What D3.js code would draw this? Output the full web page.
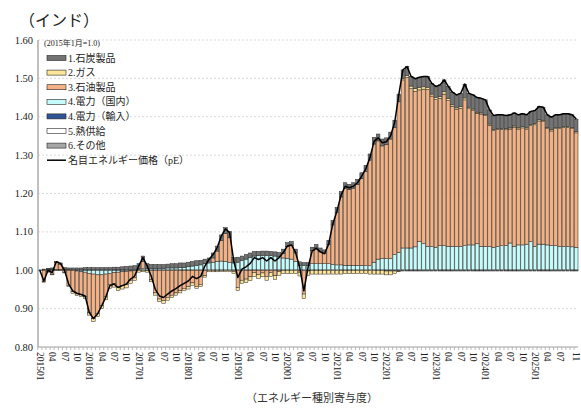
<!DOCTYPE html>
<html>
<head>
<meta charset="utf-8">
<script src="https://cdn.jsdelivr.net/npm/d3@7"></script>
<style>
  body { margin: 0; background: #fff; }
</style>
</head>
<body>
<svg width="581" height="413"></svg>
<script>
// Monthly categories 2015/01 .. 2025/11
const months = [];
for (let yr = 2015; yr <= 2025; yr++) {
    for (let m = 1; m <= 12; m++) {
        if (yr === 2025 && m > 11) break;
        months.push(`${yr}${String(m).padStart(2, "0")}`);
    }
}

// months that carry a tick label
const tickMonths = [
    "201501", "201504", "201507", "201510",
    "201601", "201604", "201607", "201610",
    "201701", "201704", "201707", "201710",
    "201801", "201804", "201807", "201810",
    "201901", "201904", "201907", "201910",
    "202001", "202004", "202007", "202010",
    "202101", "202104", "202107", "202110",
    "202201", "202204", "202207", "202210",
    "202301", "202304", "202307", "202310",
    "202401", "202404", "202407", "202410",
    "202501", "202504", "202507", "202511"
];

// nominal energy price (2015/01 = 1.0)
const pE = [
    1.000, 0.972, 1.000, 0.994, 1.022, 1.018, 1.000, 0.964, 0.946, 0.940, 0.937, 0.933,
    0.890, 0.874, 0.886, 0.907, 0.930, 0.960, 0.964, 0.955, 0.960, 0.964, 0.977, 0.985,
    1.012, 1.033, 1.012, 0.985, 0.950, 0.933, 0.929, 0.938, 0.946, 0.952, 0.960, 0.966,
    0.972, 0.984, 0.978, 0.984, 1.011, 1.028, 1.041, 1.059, 1.089, 1.108, 1.098, 1.025,
    0.981, 1.003, 1.009, 1.018, 1.033, 1.028, 1.033, 1.024, 1.033, 1.024, 1.033, 1.046,
    1.063, 1.066, 1.046, 1.007, 0.946, 1.007, 1.050, 1.057, 1.048, 1.043, 1.068, 1.120,
    1.154, 1.195, 1.219, 1.215, 1.219, 1.228, 1.245, 1.264, 1.293, 1.336, 1.345, 1.332,
    1.335, 1.350, 1.385, 1.457, 1.522, 1.531, 1.505, 1.499, 1.503, 1.505, 1.505, 1.487,
    1.479, 1.483, 1.496, 1.479, 1.464, 1.457, 1.461, 1.485, 1.461, 1.457, 1.450, 1.448,
    1.444, 1.418, 1.403, 1.405, 1.405, 1.403, 1.405, 1.410, 1.405, 1.408, 1.405, 1.414,
    1.416, 1.427, 1.425, 1.405, 1.399, 1.405, 1.405, 1.408, 1.408, 1.405, 1.394
];

// contributions by energy type
const coal = [
    .001, .002, .002, .003, .003, .003, .004, .004, .005, .005, .005, .006,
    .006, .006, .006, .006, .006, .006, .007, .007, .008, .009, .010, .011,
    .012, .014, .012, .010, .010, .010, .010, .010, .011, .011, .012, .012,
    .012, .012, .012, .012, .012, .013, .013, .013, .014, .015, .015, .014,
    .013, .012, .012, .012, .012, .011, .011, .011, .011, .011, .011, .011,
    .010, .010, .010, .009, .008, .008, .009, .009, .010, .010, .011, .012,
    .013, .014, .014, .014, .014, .014, .015, .015, .016, .017, .018, .018,
    .018, .018, .019, .020, .022, .023, .025, .026, .026, .027, .028, .028,
    .029, .030, .031, .032, .033, .034, .035, .036, .036, .037, .038, .038,
    .038, .037, .036, .035, .035, .034, .034, .034, .034, .034, .034, .034,
    .034, .034, .034, .033, .033, .033, .033, .033, .033, .033, .033
];
const gas = [
    0, -.002, -.001, -.002, -.001, -.001, -.002, -.003, -.004, -.004, -.005, -.005,
    -.006, -.007, -.008, -.008, -.009, -.009, -.009, -.009, -.009, -.008, -.008, -.007,
    -.005, -.004, -.004, -.005, -.006, -.007, -.007, -.007, -.006, -.006, -.006, -.006,
    -.006, -.006, -.005, -.005, -.004, -.004, -.004, -.004, -.003, -.003, -.003, -.005,
    -.008, -.008, -.009, -.010, -.010, -.010, -.010, -.010, -.010, -.010, -.010, -.009,
    -.009, -.009, -.009, -.010, -.012, -.011, -.010, -.010, -.010, -.010, -.010, -.010,
    -.010, -.010, -.009, -.009, -.009, -.009, -.009, -.009, -.010, -.010, -.010, -.010,
    -.010, -.010, -.006, -.002, .004, .006, .007, .007, .007, .006, .006, .005,
    .005, .005, .006, .005, .004, .004, .004, .005, .004, .004, .003, .003,
    .003, .003, .003, .003, .003, .003, .003, .003, .003, .003, .003, .003,
    .003, .004, .004, .003, .003, .003, .003, .003, .003, .003, .003
];
const oil = [
    -.001, -.029, -.004, -.010, .018, .014, -.005, -.039, -.056, -.060, -.060, -.064,
    -.103, -.116, -.101, -.080, -.058, -.030, -.029, -.039, -.036, -.035, -.024, -.019,
    .003, .019, -.001, -.025, -.059, -.075, -.079, -.071, -.065, -.059, -.053, -.047,
    -.043, -.033, -.042, -.037, -.014, .000, .011, .027, .054, .073, .065, -.003,
    -.045, -.026, -.023, -.017, -.006, -.011, -.007, -.016, -.006, -.014, -.003, .012,
    .031, .036, .022, -.005, -.062, -.002, .034, .041, .031, .026, .050, .103,
    .137, .177, .201, .197, .201, .210, .226, .246, .275, .308, .308, .294,
    .297, .312, .331, .392, .438, .444, .415, .405, .395, .403, .409, .392,
    .385, .384, .395, .380, .365, .357, .360, .380, .355, .350, .340, .345,
    .341, .316, .304, .305, .303, .302, .297, .311, .302, .305, .300, .302,
    .317, .321, .319, .303, .299, .305, .307, .310, .310, .308, .298
];
const elec = [
    0, .001, .002, .002, .001, .001, .002, .001, 0, -.002, -.004, -.005,
    -.008, -.010, -.012, -.012, -.010, -.008, -.006, -.005, -.004, -.003, -.002, -.001,
    .001, .003, .004, .004, .004, .004, .004, .005, .005, .005, .006, .006,
    .008, .010, .012, .013, .016, .018, .020, .022, .023, .022, .020, .018,
    .020, .024, .028, .032, .036, .037, .038, .038, .037, .036, .034, .031,
    .030, .028, .022, .012, .011, .011, .016, .016, .016, .016, .016, .014,
    .013, .013, .012, .012, .012, .012, .012, .011, .011, .020, .028, .029,
    .029, .029, .040, .046, .057, .057, .057, .060, .074, .068, .061, .061,
    .059, .063, .063, .061, .061, .061, .061, .063, .065, .065, .068, .061,
    .061, .061, .059, .061, .063, .063, .070, .061, .065, .065, .067, .074,
    .061, .067, .067, .065, .063, .063, .061, .061, .061, .060, .059
];
const elecImport = [
    0, 0, 0, 0, 0, 0, 0, 0, 0, 0, 0, 0,
    0, 0, 0, 0, 0, 0, 0, 0, 0, 0, 0, 0,
    0, 0, 0, 0, 0, 0, 0, 0, 0, 0, 0, 0,
    0, 0, 0, 0, 0, 0, 0, 0, 0, 0, 0, 0,
    0, 0, 0, 0, 0, 0, 0, 0, 0, 0, 0, 0,
    0, 0, 0, 0, 0, 0, 0, 0, 0, 0, 0, 0,
    0, 0, 0, 0, 0, 0, 0, 0, 0, 0, 0, 0,
    0, 0, 0, 0, 0, 0, 0, 0, 0, 0, 0, 0,
    0, 0, 0, 0, 0, 0, 0, 0, 0, 0, 0, 0,
    0, 0, 0, 0, 0, 0, 0, 0, 0, 0, 0, 0,
    0, 0, 0, 0, 0, 0, 0, 0, 0, 0, 0
];
const heat = [
    0, 0, 0, 0, 0, 0, 0, 0, 0, 0, 0, 0,
    0, 0, 0, 0, 0, 0, 0, 0, 0, 0, 0, 0,
    0, 0, 0, 0, 0, 0, 0, 0, 0, 0, 0, 0,
    0, 0, 0, 0, 0, 0, 0, 0, 0, 0, 0, 0,
    0, 0, 0, 0, 0, 0, 0, 0, 0, 0, 0, 0,
    0, 0, 0, 0, 0, 0, 0, 0, 0, 0, 0, 0,
    0, 0, 0, 0, 0, 0, 0, 0, 0, 0, 0, 0,
    -.002, -.002, -.002, -.002, -.002, -.002, -.002, -.002, -.002, -.002, -.002, -.002,
    -.002, -.002, -.002, -.002, -.002, -.002, -.002, -.002, -.002, -.002, -.002, -.002,
    -.002, -.002, -.002, -.002, -.002, -.002, -.002, -.002, -.002, -.002, -.002, -.002,
    -.002, -.002, -.002, -.002, -.002, -.002, -.002, -.002, -.002, -.002, -.002
];
const other = [
    0, 0, .001, .001, .001, .001, .001, .001, .001, .001, .001, .001,
    .001, .001, .001, .001, .001, .001, .001, .001, .001, .001, .001, .001,
    .001, .001, .001, .001, .001, .001, .001, .001, .001, .001, .001, .001,
    .001, .001, .001, .001, .001, .001, .001, .001, .001, .001, .001, .001,
    .001, .001, .001, .001, .001, .001, .001, .001, .001, .001, .001, .001,
    .001, .001, .001, .001, .001, .001, .001, .001, .001, .001, .001, .001,
    .001, .001, .001, .001, .001, .001, .001, .001, .001, .001, .001, .001,
    .001, .001, .001, .001, .001, .001, .001, .001, .001, .001, .001, .001,
    .001, .001, .001, .001, .001, .001, .001, .001, .001, .001, .001, .001,
    .001, .001, .001, .001, .001, .001, .001, .001, .001, .001, .001, .001,
    .001, .001, .001, .001, .001, .001, .001, .001, .001, .001, .001
];

const yTicks = [0.80, 0.90, 1.00, 1.10, 1.20, 1.30, 1.40, 1.50, 1.60];

// legend order (top to bottom); stacking goes the other way
const legendItems = [
    { key: "coal", label: "1.石炭製品", color: "#737373" },
    { key: "gas", label: "2.ガス", color: "#ffe699" },
    { key: "oil", label: "3.石油製品", color: "#f4b183" },
    { key: "elec", label: "4.電力（国内）", color: "#c5fbfb" },
    { key: "imp", label: "4.電力（輸入）", color: "#2f5597" },
    { key: "heat", label: "5.熱供給", color: "#ffffff" },
    { key: "other", label: "6.その他", color: "#a6a6a6" }
];
const stackKeys = ["other", "heat", "imp", "elec", "oil", "gas", "coal"];
const colorOf = {};
legendItems.forEach(d => colorOf[d.key] = d.color);

const table = months.map((m, i) => ({
    month: m, coal: coal[i], gas: gas[i], oil: oil[i], elec: elec[i],
    imp: elecImport[i], heat: heat[i], other: other[i], pE: pE[i]
}));

const serif = "'Liberation Serif','Times New Roman','Noto Sans CJK JP',serif";
const svg = d3.select("svg");

const x = d3.scaleBand().domain(months).range([38, 578]).paddingInner(0.14);
const y = d3.scaleLinear().domain([0.8, 1.6]).range([347, 40]);

// grid
svg.append("g").selectAll("line")
    .data(yTicks.slice(1))
    .join("line")
    .attr("x1", 38).attr("x2", 578)
    .attr("y1", d => y(d)).attr("y2", d => y(d))
    .attr("stroke", "#d0d0d0")
    .attr("stroke-width", 0.8)
    .attr("stroke-dasharray", "2,2");

// y labels
svg.append("g").selectAll("text")
    .data(yTicks)
    .join("text")
    .attr("x", 33).attr("y", d => y(d) + 3.5)
    .attr("text-anchor", "end")
    .style("font-family", serif)
    .style("font-size", "10.5px")
    .attr("fill", "#222")
    .text(d => d.toFixed(2));

// stacked bars around 1.0
const series = d3.stack().keys(stackKeys).offset(d3.stackOffsetDiverging)(table);

svg.append("g").selectAll("g")
    .data(series)
    .join("g")
    .attr("fill", s => colorOf[s.key])
    .selectAll("rect")
    .data(s => s.filter(d => d[1] !== d[0]))
    .join("rect")
    .attr("x", d => x(d.data.month))
    .attr("width", x.bandwidth())
    .attr("y", d => y(1 + Math.max(d[0], d[1])))
    .attr("height", d => Math.abs(y(1 + d[0]) - y(1 + d[1])))
    .attr("stroke", "#262626")
    .attr("stroke-width", 0.5);

// pE line
svg.append("path")
    .datum(table)
    .attr("fill", "none")
    .attr("stroke", "#000")
    .attr("stroke-width", 1.5)
    .attr("stroke-linejoin", "round")
    .attr("d", d3.line()
        .x(d => x(d.month) + x.bandwidth() / 2)
        .y(d => y(d.pE)));

// axes lines
svg.append("line")
    .attr("x1", 38).attr("x2", 38).attr("y1", 40).attr("y2", 347)
    .attr("stroke", "#b0b0b0").attr("stroke-width", 1.6);
svg.append("line")
    .attr("x1", 38).attr("x2", 578).attr("y1", 347).attr("y2", 347)
    .attr("stroke", "#a0a0a0").attr("stroke-width", 1);

// month ticks
svg.append("g").selectAll("line")
    .data(months)
    .join("line")
    .attr("x1", d => x(d) - x.step() * x.paddingInner() / 2)
    .attr("x2", d => x(d) - x.step() * x.paddingInner() / 2)
    .attr("y1", 347).attr("y2", 350)
    .attr("stroke", "#a0a0a0").attr("stroke-width", 0.7);

// x labels, rotated
svg.append("g").selectAll("text")
    .data(tickMonths)
    .join("text")
    .attr("transform", d => `translate(${x(d) + x.bandwidth() / 2 - 3},352) rotate(90)`)
    .attr("text-anchor", "start")
    .style("font-family", serif)
    .style("font-size", "9.5px")
    .attr("fill", "#222")
    .text(d => d.endsWith("01") ? d : d.slice(4));

// axis title
svg.append("text")
    .attr("x", 312).attr("y", 402)
    .attr("text-anchor", "middle")
    .style("font-family", serif)
    .style("font-size", "11px")
    .attr("fill", "#333")
    .text("（エネルギー種別寄与度）");

// chart title
svg.append("text")
    .attr("x", 19).attr("y", 26)
    .style("font-family", "'Noto Sans CJK JP',sans-serif")
    .style("font-size", "16px")
    .attr("fill", "#222")
    .text("（インド）");

// legend
const lg = svg.append("g");
lg.append("text")
    .attr("x", 44).attr("y", 46)
    .style("font-family", serif)
    .style("font-size", "8px")
    .attr("fill", "#222")
    .text("(2015年1月=1.0)");

const rowY = i => 58 + i * 14.6;
const item = lg.selectAll("g.item")
    .data(legendItems)
    .join("g")
    .attr("class", "item");
item.append("rect")
    .attr("x", 47).attr("y", (d, i) => rowY(i) - 2.5)
    .attr("width", 19).attr("height", 5)
    .attr("fill", d => d.color)
    .attr("stroke", "#262626").attr("stroke-width", 0.6);
item.append("text")
    .attr("x", 68).attr("y", (d, i) => rowY(i) + 3.5)
    .style("font-family", serif)
    .style("font-size", "10px")
    .attr("fill", "#222")
    .text(d => d.label);

const li = legendItems.length;
lg.append("line")
    .attr("x1", 47).attr("x2", 66)
    .attr("y1", rowY(li)).attr("y2", rowY(li))
    .attr("stroke", "#000").attr("stroke-width", 1.5);
lg.append("text")
    .attr("x", 68).attr("y", rowY(li) + 3.5)
    .style("font-family", serif)
    .style("font-size", "10px")
    .attr("fill", "#222")
    .text("名目エネルギー価格（pE）");
</script>
</body>
</html>
